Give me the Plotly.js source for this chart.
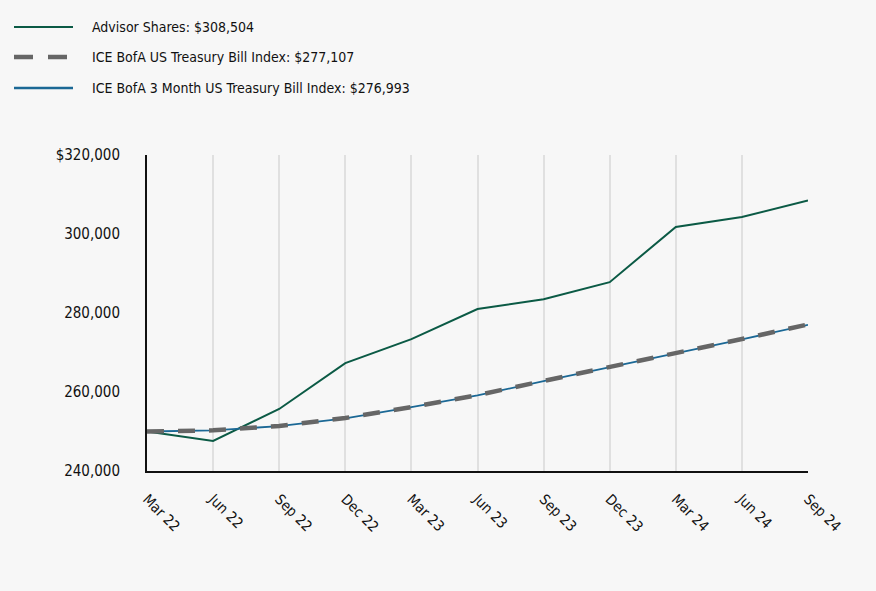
<!DOCTYPE html>
<html>
<head>
<meta charset="utf-8">
<script src="https://cdn.plot.ly/plotly-3.0.1.min.js"></script>
<style>html,body{margin:0;padding:0;background:#f7f7f7;}#chart{width:876px;height:591px;}</style>
</head>
<body>
<div id="chart"></div>
<script>
const categories = ["Mar 22","Jun 22","Sep 22","Dec 22","Mar 23","Jun 23","Sep 23","Dec 23","Mar 24","Jun 24","Sep 24"];
const advisorShares = [250000, 247600, 255700, 267300, 273400, 281000, 283500, 287800, 301800, 304300, 308504];
const treasuryBill = [250000, 250300, 251400, 253400, 256200, 259200, 262800, 266300, 269900, 273400, 277107];
const threeMonthBill = [250000, 250300, 251350, 253350, 256150, 259150, 262750, 266250, 269850, 273350, 276993];
const seriesNames = ["Advisor Shares: $308,504", "ICE BofA US Treasury Bill Index: $277,107", "ICE BofA 3 Month US Treasury Bill Index: $276,993"];
const seriesColors = ["#0b5a45", "#666666", "#1b6895"];
const yTickVals = [240000, 260000, 280000, 300000, 320000];
const yTickText = ["240,000", "260,000", "280,000", "300,000", "$320,000"];

const FONT = "'Liberation Sans Narrow', 'DejaVu Sans Condensed', 'Roboto', sans-serif";
const xIdx = categories.map((_, i) => i);
const DASH = "17px,14px";

const traces = [
  {x: xIdx, y: advisorShares, name: seriesNames[0], type: "scatter", mode: "lines",
   line: {color: seriesColors[0], width: 2}},
  {x: xIdx, y: threeMonthBill, name: seriesNames[2], type: "scatter", mode: "lines",
   line: {color: seriesColors[2], width: 1.8}},
  {x: xIdx, y: treasuryBill, name: seriesNames[1], type: "scatter", mode: "lines",
   line: {color: seriesColors[1], width: 4.5, dash: DASH}}
];

// Manual legend (pixel positions converted to paper coordinates)
const L = 147, W = 661, B = 471, H = 316;
const px = v => (v - L) / W;
const py = v => (B - v) / H;
const legendRows = [27, 57, 88];
const legendStyles = [
  {color: seriesColors[0], width: 2, dash: "solid"},
  {color: seriesColors[1], width: 4.5, dash: "19px,15px"},
  {color: seriesColors[2], width: 2.5, dash: "solid"}
];
const shapes = legendRows.map((r, i) => ({
  type: "line", xref: "paper", yref: "paper",
  x0: px(14), x1: px(73), y0: py(r), y1: py(r),
  line: legendStyles[i]
}));
const annotations = legendRows.map((r, i) => ({
  xref: "paper", yref: "paper", x: px(90), y: py(r),
  xanchor: "left", yanchor: "middle", showarrow: false,
  text: seriesNames[i], font: {family: FONT, size: 14, color: "#111"}
}));

const layout = {
  width: 876, height: 591,
  paper_bgcolor: "#f7f7f7", plot_bgcolor: "#f7f7f7",
  margin: {l: 147, r: 68, t: 155, b: 120},
  font: {family: FONT, size: 14.5, color: "#111"},
  showlegend: false,
  shapes: shapes,
  annotations: annotations,
  xaxis: {
    range: [0, 10], tickvals: xIdx, ticktext: categories, tickangle: 45,
    showgrid: true, gridcolor: "#e0e0e0", gridwidth: 2,
    showline: true, linecolor: "#111", linewidth: 2,
    ticks: "", ticklabelstandoff: 12, zeroline: false,
    tickfont: {family: FONT, size: 14.5, color: "#111"}, fixedrange: true
  },
  yaxis: {
    range: [240000, 320000], tickvals: yTickVals, ticktext: yTickText,
    showgrid: false, showline: true, linecolor: "#111", linewidth: 2,
    ticks: "", ticklabelstandoff: 22, zeroline: false,
    tickfont: {family: FONT, size: 15, color: "#111"}, fixedrange: true
  }
};

Plotly.newPlot("chart", traces, layout, {displayModeBar: false, staticPlot: true});
</script>
</body>
</html>
